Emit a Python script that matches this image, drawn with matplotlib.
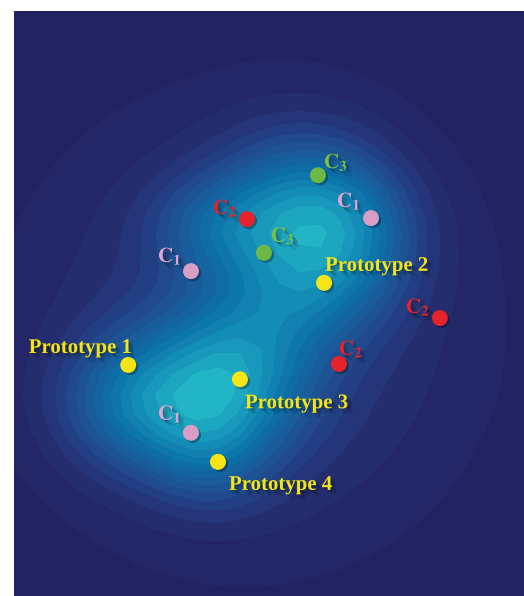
import numpy as np
import matplotlib
matplotlib.use('Agg')
from matplotlib import pyplot as plt
from matplotlib.colors import LinearSegmentedColormap
import matplotlib.patheffects as pe

# points (x, y) in embedding units
point_x = [2.24, 6.08, 4.43, 4.00, 3.47, 7.00, 3.47, 4.57, 8.35, 6.37, 5.96, 4.90]
point_y = [4.53, 6.14, 4.25, 2.63, 6.37, 7.41, 3.20, 7.39, 5.45, 4.55, 8.25, 6.73]
point_kind = ['P', 'P', 'P', 'P', 'C1', 'C1', 'C1', 'C2', 'C2', 'C2', 'C3', 'C3']
proto_names = ['Prototype 1', 'Prototype 2', 'Prototype 3', 'Prototype 4']

# density blobs behind the points
blob_x = [4.24, 2.35, 3.84, 5.61, 6.78, 3.94, 5.61, 4.63]
blob_y = [4.33, 3.80, 2.86, 7.47, 7.08, 7.27, 5.80, 5.22]
blob_sx = [1.08, 1.00, 0.88, 1.08, 0.88, 0.88, 0.98, 2.94]
blob_sy = [0.98, 0.90, 0.78, 1.08, 0.98, 0.69, 0.78, 2.94]
blob_amp = [0.75, 0.60, 0.40, 0.72, 0.40, 0.35, 0.30, 0.35]

W, H = 10.0, 585 / 51

gx = np.linspace(0, W, 26)
gy = np.linspace(0, H, 30)
X, Y = np.meshgrid(gx, gy)
Z = np.zeros_like(X)
for bx, by, sx, sy, a in zip(blob_x, blob_y, blob_sx, blob_sy, blob_amp):
    Z += a * np.exp(-((X - bx) ** 2 / (2 * sx ** 2) + (Y - by) ** 2 / (2 * sy ** 2)))

cmap = LinearSegmentedColormap.from_list('dens', ['#231f5e', '#24296a', '#243a7e', '#1f4f90',
                                                  '#16609e', '#0c70a8', '#1186b4', '#1a9ebd', '#24bcc8'])

colors = {'P': '#f5e416', 'C1': '#d89ec6', 'C2': '#e6232a', 'C3': '#6cba45'}
text_colors = {'P': '#f5e416', 'C1': '#e2a6d2', 'C2': '#ea2027', 'C3': '#7cc242'}
sub = {'C1': '1', 'C2': '2', 'C3': '3'}

# label offsets in pixels relative to each point
label_off = [(4, 12), (1, 12), (5, -29), (11, -28),
             (-33, 9), (-34, 11), (-33, 13),
             (-34, 5), (-34, 5), (0, 9),
             (6, 7), (7, 11)]

fig = plt.figure(figsize=(5.24, 5.96), dpi=100)
ax = fig.add_axes([14 / 524, 0, 510 / 524, 585 / 596])
ax.contourf(X, Y, Z, levels=np.linspace(0, Z.max() * 1.01, 17), cmap=cmap)
ax.set_xlim(0, W)
ax.set_ylim(0, H)
ax.axis('off')

dot_shadow = [pe.SimplePatchShadow(offset=(1.5, -1.5), shadow_rgbFace='k', alpha=0.3), pe.Normal()]
text_shadow = [pe.SimplePatchShadow(offset=(1, -1), shadow_rgbFace='k', alpha=0.15),
               pe.SimplePatchShadow(offset=(2, -2), shadow_rgbFace='k', alpha=0.12),
               pe.SimplePatchShadow(offset=(3, -3), shadow_rgbFace='k', alpha=0.1),
               pe.SimplePatchShadow(offset=(4, -4), shadow_rgbFace='k', alpha=0.08), pe.Normal()]

plt.rcParams['mathtext.fontset'] = 'stix'
pi = 0
for x, y, k, off in zip(point_x, point_y, point_kind, label_off):
    ax.plot(x, y, 'o', ms=11.5, color=colors[k], mec='none', zorder=3,
            path_effects=dot_shadow)
    if k == 'P':
        ax.annotate(proto_names[pi], (x, y), xytext=off, textcoords='offset pixels',
                    ha='right' if pi == 0 else 'left', va='baseline',
                    fontsize=15, fontweight='bold', family='Liberation Serif',
                    color=text_colors[k], path_effects=text_shadow, zorder=4)
        pi += 1
    else:
        ax.annotate(r'$\mathbf{C}_{\mathbf{%s}}$' % sub[k], (x, y), xytext=off,
                    textcoords='offset pixels', ha='left', va='baseline', fontsize=15,
                    color=text_colors[k], path_effects=text_shadow, zorder=4)

fig.savefig('out.png', dpi=100)
